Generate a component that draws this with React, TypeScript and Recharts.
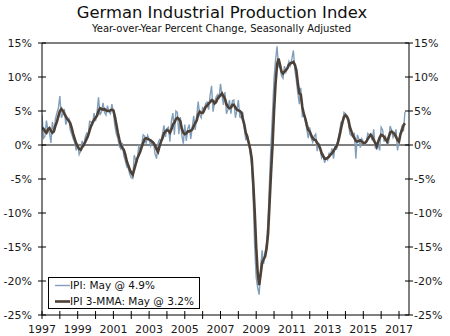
import React from 'react';
import { LineChart, Line, XAxis, YAxis, ReferenceLine, Legend } from 'recharts';

const startYear = 1997;

// IPI, year-over-year % change, monthly Jan 1997 - May 2017
const ipi: number[] = [
  // 1997
  4.5, 1.0, 1.3, 3.6, 2.0, 1.9, 0.3, 3.4, 1.8, 3.8, 4.7, 5.4,
  // 1998
  7.2, 4.0, 4.5, 5.3, 3.0, 3.7, 3.9, 2.2, 1.6, 0.9, 0.4, -0.8,
  // 1999
  0.2, -1.4, -0.9, 0.6, -0.3, 1.1, 1.7, 1.3, 3.5, 3.4, 3.0, 4.7,
  // 2000
  3.5, 4.8, 7.0, 4.4, 4.9, 6.2, 4.8, 4.4, 5.8, 4.9, 4.6, 6.0,
  // 2001
  4.8, 2.8, 1.6, 1.0, -0.2, -0.6, 0.3, -1.6, -2.3, -3.2, -3.4, -4.3,
  // 2002
  -4.8, -4.9, -1.5, -2.2, -2.4, -0.2, -0.7, 0.0, 1.5, 1.3, 0.2, 1.4,
  // 2003
  0.9, -0.1, 0.6, 0.4, -1.3, -2.0, 0.2, 0.8, 0.6, 1.6, 2.9, 1.2,
  // 2004
  2.4, 2.6, 0.5, 3.6, 4.7, 1.5, 5.0, 4.8, 1.6, 4.1, 1.4, 0.2,
  // 2005
  3.0, 0.6, 2.4, 3.0, 0.9, 2.6, 4.3, 2.2, 4.2, 6.4, 4.4, 4.0,
  // 2006
  5.6, 5.0, 6.1, 6.3, 5.2, 7.3, 8.7, 4.9, 6.3, 7.0, 7.4, 7.0,
  // 2007
  9.0, 7.3, 5.9, 7.8, 4.6, 5.2, 6.6, 4.6, 6.5, 6.6, 4.0, 5.1,
  // 2008
  6.6, 4.1, 4.0, 4.8, 2.4, 0.7, 1.6, 0.4, -1.4, -3.0, -8.0, -15.0,
  // 2009
  -19.5, -21.0, -22.0, -18.0, -15.5, -17.5, -15.8, -14.3, -11.0, -5.0, 0.3, 4.8,
  // 2010
  9.8, 12.5, 14.5, 11.5, 11.5, 10.2, 9.8, 11.6, 10.7, 11.4, 12.3, 11.7,
  // 2011
  12.7, 13.9, 11.0, 9.5, 7.6, 6.0, 8.4, 4.2, 4.4, 3.5, 2.3, 1.0,
  // 2012
  2.6, 1.0, 0.4, 1.3, 1.6, -0.9, 0.3, -0.6, -1.9, -1.5, -2.6, -1.9,
  // 2013
  -2.2, -1.2, -1.3, -0.5, -2.0, 0.1, -0.7, 0.9, 1.9, 3.3, 3.1, 4.8,
  // 2014
  4.6, 4.0, 3.2, 1.6, 1.4, 1.2, 1.8, -2.0, 1.5, 0.9, -0.4, 0.9,
  // 2015
  0.5, 0.1, 0.4, 1.7, 1.5, 1.4, 0.7, 2.3, -0.4, -0.6, 0.1, -0.8,
  // 2016
  2.6, 2.2, 0.5, 1.2, 0.2, 0.3, 2.8, 2.2, 1.1, 1.6, 2.3, -0.8,
  // 2017
  0.6, 1.9, 2.7, 2.0, 4.9,
];

// IPI 3-month moving average
const mma: number[] = [
  // 1997
  2.5, 2.4, 2.0, 1.8, 2.3, 2.5, 2.1, 1.8, 2.0, 2.8, 3.4, 4.2,
  // 1998
  5.0, 5.3, 5.0, 4.6, 4.2, 3.8, 3.6, 3.2, 2.5, 1.6, 0.9, 0.2,
  // 1999
  -0.2, -0.6, -0.7, -0.3, 0.0, 0.4, 0.9, 1.4, 2.1, 2.8, 3.3, 3.7,
  // 2000
  4.0, 4.3, 5.0, 5.4, 5.3, 5.2, 5.3, 5.1, 5.0, 5.0, 5.1, 5.2,
  // 2001
  5.1, 4.2, 3.0, 1.8, 0.8, 0.0, -0.4, -0.7, -1.4, -2.4, -3.0, -3.6,
  // 2002
  -4.1, -4.4, -3.6, -2.8, -2.0, -1.5, -1.0, -0.3, 0.3, 0.9, 1.0, 0.9,
  // 2003
  0.8, 0.7, 0.5, 0.3, -0.1, -0.6, -1.0, -0.2, 0.5, 1.0, 1.7, 2.0,
  // 2004
  2.2, 2.1, 1.8, 2.3, 3.0, 3.3, 3.8, 4.0, 3.8, 3.5, 2.4, 1.8,
  // 2005
  1.6, 1.7, 2.0, 2.0, 2.1, 2.3, 2.8, 3.2, 3.6, 4.5, 4.9, 4.7,
  // 2006
  4.7, 5.1, 5.6, 5.8, 6.1, 6.3, 6.6, 6.5, 6.1, 6.3, 6.8, 7.1,
  // 2007
  7.3, 7.6, 7.2, 6.8, 6.0, 5.6, 5.4, 5.5, 5.9, 5.9, 5.5, 5.2,
  // 2008
  5.1, 5.0, 4.8, 3.8, 3.0, 1.8, 1.2, 0.3, -0.6, -2.0, -5.5, -9.8,
  // 2009
  -15.0, -18.8, -20.6, -19.0, -17.3, -16.8, -16.4, -15.2, -13.0, -8.5, -4.0, 0.0,
  // 2010
  5.0, 9.0, 11.8, 12.7, 11.8, 10.8, 10.5, 10.8, 11.0, 11.3, 11.8, 12.0,
  // 2011
  12.1, 12.2, 11.8, 11.0, 9.1, 7.6, 7.4, 5.6, 4.6, 3.9, 3.0, 2.2,
  // 2012
  2.0, 1.4, 1.0, 0.8, 0.7, 0.3, 0.0, -0.5, -1.2, -1.6, -2.0, -2.0,
  // 2013
  -1.9, -1.7, -1.4, -1.2, -0.9, -0.5, -0.2, 0.4, 1.3, 2.4, 3.4, 4.1,
  // 2014
  4.4, 4.2, 3.7, 2.6, 2.0, 1.4, 1.0, 0.6, 0.5, 0.6, 0.7, 0.5,
  // 2015
  0.3, 0.3, 0.5, 0.9, 1.2, 1.5, 1.2, 0.7, 0.3, -0.2, 0.5, 1.1,
  // 2016
  1.5, 1.4, 1.2, 0.8, 0.5, 1.1, 1.8, 2.0, 1.8, 1.6, 1.2, 0.7,
  // 2017
  0.5, 1.6, 2.2, 2.9, 3.2,
];

const yTicks: number[] = [-25, -20, -15, -10, -5, 0, 5, 10, 15];
const xTicks: number[] = [
  1997, 1998, 1999, 2000, 2001, 2002, 2003, 2004, 2005, 2006, 2007,
  2008, 2009, 2010, 2011, 2012, 2013, 2014, 2015, 2016, 2017,
];

const legendLabels = ['IPI: May @ 4.9%', 'IPI 3-MMA: May @ 3.2%'];

const IPI_COLOR = '#819fbb';
const MMA_COLOR = '#4d4037';
const FONT = '"DejaVu Sans", Verdana, sans-serif';

const data = ipi.map((v, i) => ({ t: startYear + i / 12, ipi: v, mma: mma[i] }));

const XTick = (props: any) => {
  const { x, y, payload } = props;
  const yr = payload.value as number;
  return (
    <g>
      <line x1={x} x2={x} y1={y - 4} y2={y + 4} stroke="#000" strokeWidth={1} />
      {yr % 2 === 1 && (
        <text x={x} y={y + 17.5} textAnchor="middle" fontSize={11} fontFamily={FONT} fill="#1a1a1a">
          {yr}
        </text>
      )}
    </g>
  );
};

const LeftTick = (props: any) => {
  const { x, y, payload } = props;
  return (
    <g>
      <line x1={x - 4} x2={x + 4} y1={y} y2={y} stroke="#000" strokeWidth={1} />
      <text x={x - 10} y={y} dy="0.36em" textAnchor="end" fontSize={11} fontFamily={FONT} fill="#1a1a1a">
        {payload.value}%
      </text>
    </g>
  );
};

const RightTick = (props: any) => {
  const { x, y, payload } = props;
  return (
    <g>
      <line x1={x - 4} x2={x + 4} y1={y} y2={y} stroke="#000" strokeWidth={1} />
      <text x={x + 5} y={y} dy="0.36em" textAnchor="start" fontSize={11} fontFamily={FONT} fill="#1a1a1a">
        {payload.value}%
      </text>
    </g>
  );
};

const renderLegend = () => (
  <svg width={153} height={32} style={{ display: 'block' }}>
    <rect x={0.5} y={0.5} width={151} height={31} fill="#fff" stroke="#000" strokeWidth={1} />
    <line x1={7} x2={22} y1={8.5} y2={8.5} stroke={IPI_COLOR} strokeWidth={1.4} />
    <text x={22} y={12.3} fontSize={10.5} fontFamily={FONT} fill="#111">{legendLabels[0]}</text>
    <line x1={7} x2={22} y1={24.5} y2={24.5} stroke={MMA_COLOR} strokeWidth={2.6} />
    <text x={22} y={28.3} fontSize={10.5} fontFamily={FONT} fill="#111">{legendLabels[1]}</text>
  </svg>
);

export default function App() {
  return (
    <div style={{ position: 'absolute', left: 0, top: 0, width: 450, height: 336, background: '#fff' }}>
      <svg width={450} height={40} style={{ position: 'absolute', left: 0, top: 0 }}>
        <text x={222} y={18.3} textAnchor="middle" fontSize={16.4} fontFamily={FONT} fill="#111">
          German Industrial Production Index
        </text>
        <text x={221.5} y={32.3} textAnchor="middle" fontSize={10} fontFamily={FONT} fill="#111">
          Year-over-Year Percent Change, Seasonally Adjusted
        </text>
      </svg>
      <div style={{ position: 'absolute', left: 0, top: 0 }}>
        <LineChart width={450} height={336} data={data} margin={{ top: 43, right: 0, bottom: 0, left: 0 }}>
          <XAxis
            dataKey="t"
            type="number"
            domain={[1997, 2017.56]}
            ticks={xTicks}
            interval={0}
            height={21}
            tickSize={0}
            tickMargin={0}
            tickLine={false}
            axisLine={{ stroke: '#000', strokeWidth: 1 }}
            tick={<XTick />}
            allowDataOverflow
          />
          <YAxis
            yAxisId="left"
            orientation="left"
            width={42}
            domain={[-25, 15]}
            ticks={yTicks}
            interval={0}
            tickSize={0}
            tickMargin={0}
            tickLine={false}
            axisLine={{ stroke: '#000', strokeWidth: 1 }}
            tick={<LeftTick />}
            allowDataOverflow
          />
          <YAxis
            yAxisId="right"
            orientation="right"
            width={41}
            domain={[-25, 15]}
            ticks={yTicks}
            interval={0}
            tickSize={0}
            tickMargin={0}
            tickLine={false}
            axisLine={{ stroke: '#000', strokeWidth: 1 }}
            tick={<RightTick />}
            allowDataOverflow
          />
          <ReferenceLine yAxisId="left" y={15} stroke="#000" strokeWidth={1} />
          <ReferenceLine yAxisId="left" y={0} stroke="#000" strokeWidth={1} />
          <Line
            yAxisId="left"
            type="linear"
            dataKey="ipi"
            stroke={IPI_COLOR}
            strokeWidth={1.4}
            dot={false}
            isAnimationActive={false}
          />
          <Line
            yAxisId="left"
            type="linear"
            dataKey="mma"
            stroke={MMA_COLOR}
            strokeWidth={2.6}
            dot={false}
            isAnimationActive={false}
          />
          <Legend
            layout="vertical"
            align="center"
            verticalAlign="middle"
            content={renderLegend}
            wrapperStyle={{ position: 'absolute', left: 48, top: 277, width: 153, height: 32 }}
          />
        </LineChart>
      </div>
    </div>
  );
}
